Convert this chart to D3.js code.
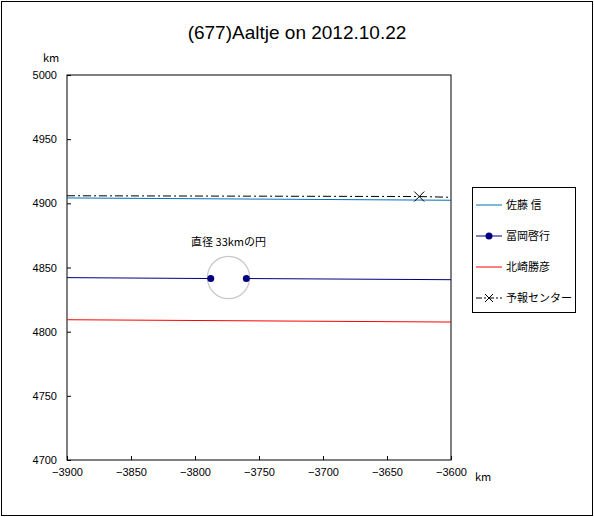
<!DOCTYPE html>
<html><head><meta charset="utf-8">
<script src="https://cdn.jsdelivr.net/npm/d3@7"></script>
<style>body{margin:0;background:#fff;font-family:"Noto Sans CJK JP",sans-serif}</style>
</head><body>
<script>
// data
const xTicks = [-3900, -3850, -3800, -3750, -3700, -3650, -3600];
const yTicks = [4700, 4750, 4800, 4850, 4900, 4950, 5000];
const satoX = [-3900, -3600], satoY = [4904.2, 4902.4];
const tomiokaX = [-3900, -3787.7, -3759.9, -3600], tomiokaY = [4842.1, 4841.4, 4841.4, 4840.5];
const kitazakiX = [-3900, -3600], kitazakiY = [4809.3, 4807.5];
const centerX = [-3900, -3624.8, -3600], centerY = [4905.9, 4905.3, 4904.7];
const circleCenter = [-3773.8, 4842.2], circleDiameter = 33;

const svg = d3.select("body").append("svg").attr("width", 594).attr("height", 517);
svg.append("rect").attr("x", 1.5).attr("y", 1.5).attr("width", 591).attr("height", 514)
  .attr("fill", "#fff").attr("stroke", "#000");

const x = d3.scaleLinear().domain([-3900, -3600]).range([67, 451]);
const y = d3.scaleLinear().domain([4700, 5000]).range([460, 75]);

svg.append("rect").attr("x", 67).attr("y", 75).attr("width", 384).attr("height", 385)
  .attr("fill", "none").attr("stroke", "#000");

const fs = "11px";
const fmt = d => String(d).replace("-", "\u2212");
svg.append("g").attr("transform", "translate(0,460)")
  .call(d3.axisBottom(x).tickValues(xTicks).tickFormat(fmt).tickSize(-4).tickPadding(8))
  .call(g => g.select(".domain").remove())
  .selectAll("text").style("font-size", fs).style("font-family", "Liberation Sans");
svg.append("g").attr("transform", "translate(67,0)")
  .call(d3.axisLeft(y).tickValues(yTicks).tickFormat(fmt).tickSize(-4).tickPadding(10))
  .call(g => g.select(".domain").remove())
  .selectAll("text").style("font-size", fs).style("font-family", "Liberation Sans");

svg.append("text").attr("x", 297).attr("y", 39).attr("text-anchor", "middle")
  .style("font-size", "19px").style("font-family", "Liberation Sans").text("(677)Aaltje on 2012.10.22");
svg.append("text").attr("x", 43).attr("y", 62).style("font-size", fs).text("km");
svg.append("text").attr("x", 475).attr("y", 481).style("font-size", fs).text("km");

const pts = (xs, ys) => xs.map((v, i) => [v, ys[i]]);
const line = d3.line().x(d => x(d[0])).y(d => y(d[1]));

// circle
svg.append("ellipse").attr("cx", x(circleCenter[0])).attr("cy", y(circleCenter[1]))
  .attr("rx", x(circleCenter[0] + circleDiameter / 2) - x(circleCenter[0]))
  .attr("ry", y(circleCenter[1]) - y(circleCenter[1] + circleDiameter / 2))
  .attr("fill", "none").attr("stroke", "#c8c8c8").attr("stroke-width", 1.2);
svg.append("text").attr("x", x(circleCenter[0])).attr("y", 246).attr("text-anchor", "middle")
  .style("font-size", "11px").text("直径 33kmの円");

svg.append("path").datum(pts(centerX, centerY)).attr("d", line).attr("fill", "none")
  .attr("stroke", "#000").attr("stroke-dasharray", "8,3,2,3");
svg.append("path").datum(pts(satoX, satoY)).attr("d", line).attr("fill", "none").attr("stroke", "#0070c0");
// tomioka: no line inside the circle
const tom = pts(tomiokaX, tomiokaY);
[tom.slice(0, 2), tom.slice(2)].forEach(seg =>
  svg.append("path").datum(seg).attr("d", line).attr("fill", "none").attr("stroke", "#000080"));
svg.append("path").datum(pts(kitazakiX, kitazakiY)).attr("d", line).attr("fill", "none").attr("stroke", "#ff0000");

svg.selectAll(".dot").data(tom.slice(1, 3)).enter().append("circle")
  .attr("cx", d => x(d[0])).attr("cy", d => y(d[1])).attr("r", 3.5).attr("fill", "#000080");
const cross = pts(centerX, centerY)[1];
svg.append("path").attr("d", `M${x(cross[0]) - 5},${y(cross[1]) - 5}l10,10M${x(cross[0]) - 5},${y(cross[1]) + 5}l10,-10`)
  .attr("stroke", "#000");

// legend
const leg = svg.append("g").attr("transform", "translate(472,187)");
leg.append("rect").attr("x", 0.5).attr("y", 0.5).attr("width", 103).attr("height", 125)
  .attr("fill", "#fff").attr("stroke", "#000");
const items = [
  {name: "佐藤 信", color: "#0070c0"},
  {name: "冨岡啓行", color: "#000080", dot: true},
  {name: "北崎勝彦", color: "#ff0000"},
  {name: "予報センター", color: "#000", dash: "6,2,2,2", cross: true}
];
items.forEach((d, i) => {
  const yy = 18 + i * 31;
  leg.append("line").attr("x1", 4).attr("x2", 30).attr("y1", yy).attr("y2", yy)
    .attr("stroke", d.color).attr("stroke-dasharray", d.dash || null);
  if (d.dot) leg.append("circle").attr("cx", 17).attr("cy", yy).attr("r", 3.5).attr("fill", d.color);
  if (d.cross) leg.append("path").attr("d", `M13,${yy - 4}l8,8M13,${yy + 4}l8,-8`).attr("stroke", "#000");
  leg.append("text").attr("x", 34).attr("y", yy + 4).style("font-size", "11px").text(d.name);
});
</script>
</body></html>
